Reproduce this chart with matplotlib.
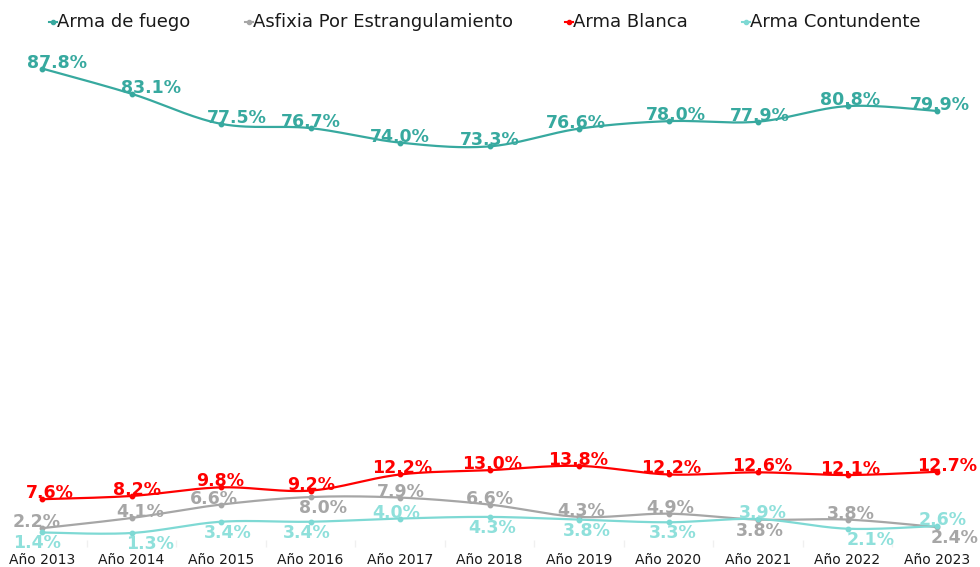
import numpy as np
import matplotlib
matplotlib.use("Agg")
import matplotlib.pyplot as plt
from matplotlib.lines import Line2D

years = ["Año 2013", "Año 2014", "Año 2015", "Año 2016", "Año 2017", "Año 2018",
         "Año 2019", "Año 2020", "Año 2021", "Año 2022", "Año 2023"]
arma_fuego = [87.8, 83.1, 77.5, 76.7, 74.0, 73.3, 76.6, 78.0, 77.9, 80.8, 79.9]
asfixia = [2.2, 4.1, 6.6, 8.0, 7.9, 6.6, 4.3, 4.9, 3.8, 3.8, 2.4]
arma_blanca = [7.6, 8.2, 9.8, 9.2, 12.2, 13.0, 13.8, 12.2, 12.6, 12.1, 12.7]
contundente = [1.4, 1.3, 3.4, 3.4, 4.0, 4.3, 3.8, 3.3, 3.9, 2.1, 2.6]
series_names = ["Arma de fuego", "Asfixia Por Estrangulamiento", "Arma Blanca", "Arma Contundente"]

W, H = 980, 567
fig = plt.figure(figsize=(W / 100, H / 100), dpi=100)
ax = fig.add_axes([0, 27 / H, 1, 537 / H])
ax.set_xlim(-42 / 89.5, 10 + 43 / 89.5)
ax.set_ylim(0, 100)
for s in ax.spines.values():
    s.set_visible(False)
ax.set_yticks([])
x = np.arange(len(years))
ax.set_xticks(x)
ax.set_xticklabels(years, fontsize=10, family="DejaVu Sans", color="#1a1a1a")
ax.tick_params(axis="x", length=0, pad=9)
ax.set_xticks(x[:-1] + 0.5, minor=True)
ax.tick_params(axis="x", which="minor", length=5, color="#f0f0f0", width=1)


def smooth(xv, yv, n=30):
    pts = np.column_stack([xv, yv]).astype(float)
    out = []
    m = len(pts)
    for i in range(m - 1):
        p0 = pts[i - 1] if i > 0 else pts[i]
        p1 = pts[i]
        p2 = pts[i + 1]
        p3 = pts[i + 2] if i + 2 < m else pts[i + 1]
        c1 = p1 + (p2 - p0) / 6.0
        c2 = p2 - (p3 - p1) / 6.0
        t = np.linspace(0, 1, n)[:, None]
        seg = ((1 - t) ** 3) * p1 + 3 * ((1 - t) ** 2) * t * c1 + 3 * (1 - t) * t ** 2 * c2 + t ** 3 * p2
        if i > 0:
            seg = seg[1:]
        out.append(seg)
    out = np.vstack(out)
    return out[:, 0], out[:, 1]


styles = [
    dict(data=arma_fuego, color="#37A99F", lcolor="#37A99F",
         pos=["a"] * 11, dx=[15, 19, 16, 0, 0, 0, -3, 7, 2, 3, 3]),
    dict(data=asfixia, color="#A6A6A6", lcolor="#A6A6A6",
         pos=["a", "a", "a", "b", "a", "a", "a", "a", "b", "a", "b"],
         dx=[-5, 9, -7, 13, 1, 0, 2, 2, 2, 3, 18]),
    dict(data=arma_blanca, color="#FF0000", lcolor="#FF0000",
         pos=["a"] * 11, dx=[8, 6, -1, 1, 2, 3, -1, 3, 4, 3, 10]),
    dict(data=contundente, color="#7ED9D4", lcolor="#8FE0DB",
         pos=["b", "b", "b", "b", "a", "b", "b", "b", "a", "b", "a"],
         dx=[-5, 18, 7, -4, -4, 3, 8, 4, 5, 23, 6]),
]

for st in styles:
    sx, sy = smooth(x, st["data"])
    ax.plot(sx, sy, color=st["color"], lw=1.6, solid_capstyle="round", zorder=2)
    ax.plot(x, st["data"], linestyle="none", marker="o", ms=3.2, color=st["color"], zorder=3)
    for i, v in enumerate(st["data"]):
        dy = 1 if st["pos"][i] == "a" else -16
        ax.annotate(f"{v:.1f}%", (x[i], v), xytext=(st["dx"][i], dy),
                    textcoords="offset pixels", ha="center", va="baseline",
                    fontsize=12.5, fontweight="bold", color=st["lcolor"],
                    family="DejaVu Sans", zorder=4)

# legend
leg_x = [49, 245, 565, 742]
leg_y = 22
for name, st, lx in zip(series_names, styles, leg_x):
    fy = 1 - leg_y / H
    fig.add_artist(Line2D([lx / W, (lx + 8) / W], [fy, fy], transform=fig.transFigure,
                          color=st["color"], lw=1.5))
    fig.add_artist(Line2D([(lx + 4) / W], [fy], transform=fig.transFigure,
                          color=st["color"], marker="o", ms=3, linestyle="none"))
    fig.text((lx + 8) / W, fy, name, fontsize=13, family="DejaVu Sans",
             ha="left", va="center", color="#1a1a1a")

fig.savefig("out.png", dpi=100, facecolor="white")
